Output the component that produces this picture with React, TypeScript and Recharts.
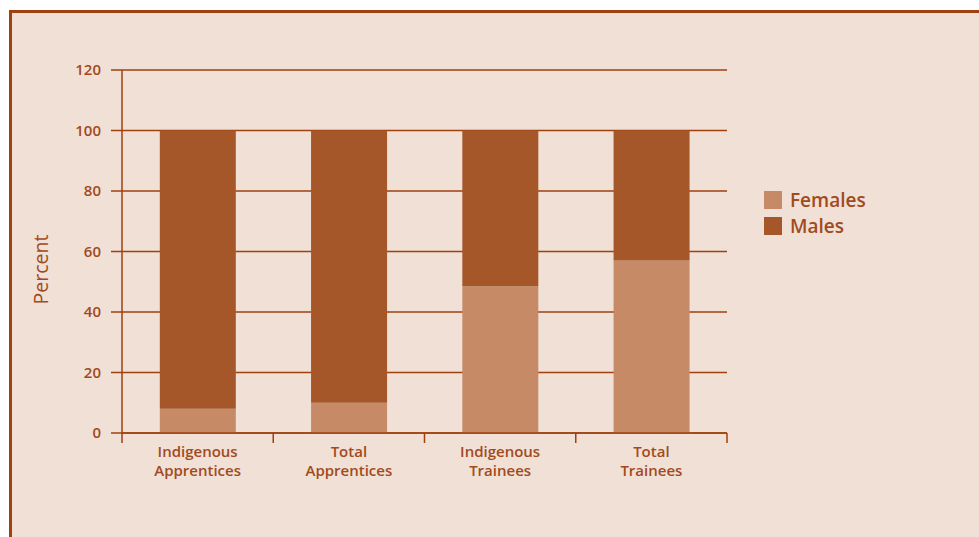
import { BarChart, Bar, XAxis, YAxis, CartesianGrid, Label } from "recharts";

const categories = ["Indigenous Apprentices", "Total Apprentices", "Indigenous Trainees", "Total Trainees"];
const females = [8, 10, 48.5, 57];
const males = [92, 90, 51.5, 43];
const yTicks = [0, 20, 40, 60, 80, 100, 120];
const legendItems = ["Females", "Males"];

const COLORS = {
  females: "#c68b66",
  males: "#a5572a",
  line: "#a0410f",
  text: "#a24a1c",
  bg: "#f0e0d6",
};

const FONT = "'Open Sans', 'Liberation Sans', sans-serif";

const data = categories.map((name, i) => ({ name, females: females[i], males: males[i] }));

function CategoryTick(props: any) {
  const { x, y, payload, index, visibleTicksCount } = props;
  const half = payload.offset ?? 0;
  const words = String(payload.value).split(" ");
  const isLast = index === visibleTicksCount - 1;
  return (
    <g>
      <line x1={x - half} x2={x - half} y1={y} y2={y + 10} stroke={COLORS.line} strokeWidth={1.5} />
      {isLast && (
        <line x1={x + half} x2={x + half} y1={y} y2={y + 10} stroke={COLORS.line} strokeWidth={1.5} />
      )}
      {words.map((w, i) => (
        <text
          key={i}
          x={x}
          y={y + 24 + i * 19}
          textAnchor="middle"
          fill={COLORS.text}
          fontFamily={FONT}
          fontWeight={600}
          fontSize={15}
        >
          {w}
        </text>
      ))}
    </g>
  );
}

function PercentLabel(props: any) {
  const { viewBox } = props;
  const cx = viewBox.x + 40;
  const cy = viewBox.y + viewBox.height / 2 + 18;
  return (
    <text
      x={cx}
      y={cy}
      transform={`rotate(-90, ${cx}, ${cy})`}
      textAnchor="middle"
      dominantBaseline="central"
      fill={COLORS.text}
      fontFamily={FONT}
      fontSize={19.5}
      fontWeight={500}
    >
      Percent
    </text>
  );
}

function LegendBox() {
  const colors = [COLORS.females, COLORS.males];
  return (
    <div style={{ position: "absolute", left: 764, top: 187, fontFamily: FONT }}>
      {legendItems.map((label, i) => (
        <div key={label} style={{ display: "flex", alignItems: "center", height: 26 }}>
          <span style={{ width: 18, height: 18, background: colors[i], display: "inline-block", marginRight: 8 }} />
          <span style={{ color: COLORS.text, fontSize: 19, fontWeight: 600 }}>{label}</span>
        </div>
      ))}
    </div>
  );
}

export default function App() {
  return (
    <div style={{ position: "fixed", inset: 0, background: "#fff", overflow: "hidden" }}>
      <div
        style={{
          position: "absolute",
          left: 9,
          top: 10,
          right: 0,
          bottom: 0,
          background: COLORS.bg,
          borderTop: `3px solid ${COLORS.line}`,
          borderLeft: `3px solid ${COLORS.line}`,
        }}
      />
      <div style={{ position: "absolute", left: 0, top: 0 }}>
        <BarChart
          width={979}
          height={537}
          data={data}
          margin={{ top: 70, right: 252, bottom: 64, left: 0 }}
          barCategoryGap="25%"
        >
          <CartesianGrid vertical={false} stroke={COLORS.line} strokeWidth={1.5} yAxisId="left" />
          <XAxis
            dataKey="name"
            height={40}
            axisLine={{ stroke: COLORS.line, strokeWidth: 1.5 }}
            tickLine={false}
            tickSize={0}
            tickMargin={0}
            interval={0}
            tick={<CategoryTick />}
          />
          <YAxis
            yAxisId="left"
            width={122}
            domain={[0, 120]}
            ticks={yTicks}
            axisLine={{ stroke: COLORS.line, strokeWidth: 1.5 }}
            tickLine={{ stroke: COLORS.line, strokeWidth: 1.5 }}
            tickSize={11}
            tickMargin={10}
            tick={{ fill: COLORS.text, fontFamily: FONT, fontWeight: 600, fontSize: 15 }}
          >
            <Label content={<PercentLabel />} />
          </YAxis>
          <YAxis
            yAxisId="right"
            orientation="right"
            width={0}
            domain={[0, 120]}
            ticks={yTicks}
            tick={false}
            tickLine={false}
            axisLine={{ stroke: COLORS.line, strokeWidth: 1.5 }}
          />
          <Bar dataKey="females" yAxisId="left" stackId="a" fill={COLORS.females} isAnimationActive={false} />
          <Bar dataKey="males" yAxisId="left" stackId="a" fill={COLORS.males} isAnimationActive={false} />
        </BarChart>
      </div>
      <LegendBox />
    </div>
  );
}
